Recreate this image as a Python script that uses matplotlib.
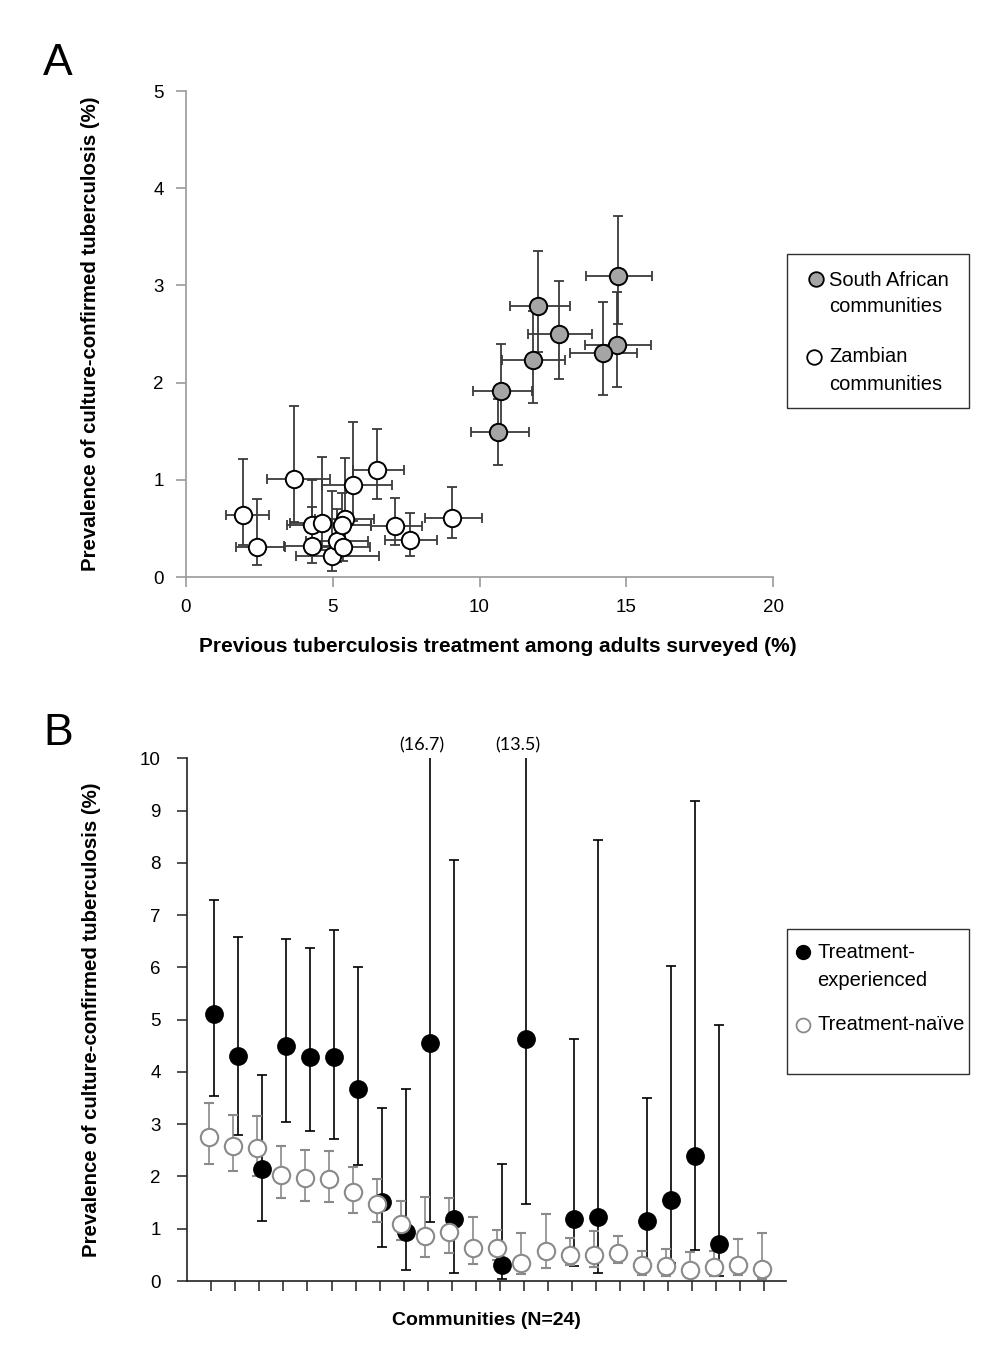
import numpy as np
import matplotlib
matplotlib.use('Agg')
import matplotlib.pyplot as plt
from matplotlib.lines import Line2D
from matplotlib.patches import Rectangle

plt.rcParams['font.family'] = ['Liberation Sans', 'DejaVu Sans']

#%% panel A data: (value, lower, upper) per community
sa_x = [14.72, 12.00, 12.70, 11.81, 14.68, 14.20, 10.73, 10.64]
sa_xlo = [13.62, 11.03, 11.66, 10.76, 13.58, 13.08, 9.79, 9.70]
sa_xhi = [15.89, 13.07, 13.82, 12.91, 15.84, 15.36, 11.78, 11.69]
sa_y = [3.10, 2.785, 2.50, 2.23, 2.39, 2.30, 1.91, 1.49]
sa_ylo = [2.60, 2.31, 2.04, 1.79, 1.95, 1.87, 1.45, 1.15]
sa_yhi = [3.71, 3.35, 3.05, 2.74, 2.93, 2.83, 2.40, 1.83]

zm_x = [1.95, 2.41, 3.68, 4.28, 4.29, 4.63, 4.96, 5.13, 5.41, 5.32, 5.34, 5.68, 6.52, 7.12, 7.63, 9.05]
zm_xlo = [1.35, 1.69, 2.75, 3.45, 3.35, 3.55, 3.74, 4.10, 4.40, 4.30, 4.40, 4.62, 5.70, 6.30, 6.78, 8.14]
zm_xhi = [2.84, 3.37, 4.91, 5.20, 5.30, 5.60, 6.59, 6.20, 6.40, 6.30, 6.27, 7.01, 7.43, 8.03, 8.56, 10.07]
zm_y = [0.635, 0.306, 1.005, 0.54, 0.316, 0.56, 0.22, 0.37, 0.60, 0.54, 0.31, 0.95, 1.10, 0.52, 0.385, 0.61]
zm_ylo = [0.33, 0.12, 0.57, 0.25, 0.14, 0.28, 0.06, 0.15, 0.30, 0.25, 0.16, 0.58, 0.80, 0.33, 0.22, 0.40]
zm_yhi = [1.21, 0.80, 1.76, 1.00, 0.72, 1.23, 0.88, 0.70, 1.22, 0.86, 0.62, 1.59, 1.52, 0.81, 0.66, 0.93]

#%% panel B data, communities 1..24 (nan = no treatment-experienced case)
community = np.arange(1, 25)
exp_prev = [5.11, 4.30, 2.15, 4.49, 4.29, 4.29, 3.67, 1.51, 0.93, 4.55, 1.19, np.nan,
            0.31, 4.63, np.nan, 1.19, 1.23, np.nan, 1.14, 1.55, 2.40, 0.71, np.nan, np.nan]
exp_lo = [3.54, 2.79, 1.15, 3.04, 2.87, 2.72, 2.22, 0.66, 0.22, 1.13, 0.15, np.nan,
          0.03, 1.47, np.nan, 0.28, 0.16, np.nan, 0.30, 0.35, 0.59, 0.10, np.nan, np.nan]
exp_hi = [7.29, 6.58, 3.94, 6.55, 6.37, 6.72, 6.00, 3.31, 3.68, 16.7, 8.05, np.nan,
          2.23, 13.5, np.nan, 4.63, 8.43, np.nan, 3.51, 6.02, 9.19, 4.90, np.nan, np.nan]
naive_prev = [2.76, 2.58, 2.54, 2.03, 1.97, 1.95, 1.70, 1.47, 1.09, 0.87, 0.93, 0.63,
              0.63, 0.34, 0.57, 0.49, 0.50, 0.54, 0.31, 0.29, 0.21, 0.27, 0.30, 0.23]
naive_lo = [2.24, 2.10, 2.00, 1.59, 1.54, 1.51, 1.31, 1.12, 0.78, 0.46, 0.53, 0.33,
            0.40, 0.13, 0.25, 0.30, 0.26, 0.35, 0.12, 0.10, 0.05, 0.10, 0.12, 0.04]
naive_hi = [3.40, 3.17, 3.16, 2.58, 2.51, 2.49, 2.19, 1.96, 1.54, 1.60, 1.59, 1.23,
            0.97, 0.92, 1.28, 0.82, 0.96, 0.86, 0.58, 0.61, 0.56, 0.58, 0.81, 0.91]

W, H = 994, 1345
def fx(px):          # figure fraction from pixel column
    return px / W
def fy(py):          # figure fraction from pixel row (top origin)
    return 1 - py / H

def legend_box(x0, y0, x1, y1, entries, fontsize=14.5):
    # entries: (marker x, marker y, marker kw, [(text, x, y), ...]) in pixels
    fig.add_artist(Rectangle((fx(x0), fy(y1)), fx(x1) - fx(x0), fy(y0) - fy(y1),
                             transform=fig.transFigure, fill=False,
                             edgecolor='#303030', linewidth=1.0))
    for mx, my, mkw, lines in entries:
        fig.add_artist(Line2D([fx(mx)], [fy(my)], transform=fig.transFigure,
                              marker='o', ls='none', **mkw))
        for txt, tx, ty in lines:
            fig.text(fx(tx), fy(ty), txt, fontsize=fontsize, ha='left', va='center')

#%%
fig = plt.figure(figsize=(9.94, 13.45), dpi=100)

# ---------------- panel A
axA = fig.add_axes([0.1871, 0.5710, 0.5906, 0.3613])
sx, sy = np.array(sa_x), np.array(sa_y)
zx, zy = np.array(zm_x), np.array(zm_y)
eb = dict(fmt='none', ecolor='#3a3a3a', elinewidth=1.3, capsize=3.5, capthick=1.3)
axA.errorbar(sx, sy, xerr=[sx - sa_xlo, np.array(sa_xhi) - sx],
             yerr=[sy - sa_ylo, np.array(sa_yhi) - sy], **eb)
axA.errorbar(zx, zy, xerr=[zx - zm_xlo, np.array(zm_xhi) - zx],
             yerr=[zy - zm_ylo, np.array(zm_yhi) - zy], **eb)
axA.plot(sx, sy, 'o', ms=12.5, mfc='#a5a5a5', mec='black', mew=1.4, ls='none')
axA.plot(zx, zy, 'o', ms=12.5, mfc='white', mec='black', mew=1.4, ls='none')

axA.set_xlim(0, 20)
axA.set_ylim(0, 5)
axA.set_xticks([0, 5, 10, 15, 20])
axA.set_yticks(range(6))
for s in ['top', 'right']:
    axA.spines[s].set_visible(False)
for s in ['left', 'bottom']:
    axA.spines[s].set_color('#9a9a9a')
    axA.spines[s].set_linewidth(1.2)
axA.tick_params(direction='out', length=7, width=1.2, color='#9a9a9a',
                labelsize=13.5, pad=9)
axA.set_xlabel('Previous tuberculosis treatment among adults surveyed (%)',
               fontsize=15, fontweight='bold')
axA.xaxis.set_label_coords(0.531, -0.124)
axA.set_ylabel('Prevalence of culture-confirmed tuberculosis (%)',
               fontsize=14.7, fontweight='bold', labelpad=38)

legend_box(787, 254, 969, 408, [
    (816, 279, dict(ms=10.5, mfc='#a5a5a5', mec='black', mew=1.3),
     [('South African', 829, 280), ('communities', 829, 307)]),
    (814, 357, dict(ms=10.5, mfc='white', mec='black', mew=1.3),
     [('Zambian', 829, 356), ('communities', 829, 384)]),
])

fig.text(fx(43), fy(75), 'A', fontsize=32, ha='left', va='baseline')

# ---------------- panel B
axB = fig.add_axes([0.1884, 0.04758, 0.6023, 0.3886])
ep = np.array(exp_prev)
ok = ~np.isnan(ep)
ex = community[ok] + 0.1
axB.errorbar(ex, ep[ok], yerr=[ep[ok] - np.array(exp_lo)[ok], np.array(exp_hi)[ok] - ep[ok]],
             fmt='o', ms=12.5, mfc='black', mec='black', color='black',
             elinewidth=1.2, ecolor='black', capsize=3.5, capthick=1.2)
nv = np.array(naive_prev)
axB.errorbar(community - 0.1, nv, yerr=[nv - naive_lo, np.array(naive_hi) - nv],
             fmt='o', ms=12.5, mfc='white', mec='#8a8a8a', mew=1.5,
             elinewidth=1.2, ecolor='#8a8a8a', capsize=3.5, capthick=1.2)

# upper limits that run off the chart
for i in np.where(np.array(exp_hi) > 10)[0]:
    axB.text(community[i] - 0.25, 10.1, '(%.1f)' % exp_hi[i], ha='center', va='bottom',
             fontsize=13, family='Lato', clip_on=False)

axB.set_xlim(0, 24.9)
axB.set_ylim(0, 10)
axB.set_yticks(range(11))
axB.set_xticks(community)
axB.set_xticklabels([])
for s in ['top', 'right']:
    axB.spines[s].set_visible(False)
for s in ['left', 'bottom']:
    axB.spines[s].set_color('#222222')
    axB.spines[s].set_linewidth(1.2)
axB.tick_params(direction='out', length=7, width=1.1, color='#222222',
                labelsize=13.5, pad=12)
axB.set_xlabel('Communities (N=24)', fontsize=14, fontweight='bold', labelpad=3)
axB.set_ylabel('Prevalence of culture-confirmed tuberculosis (%)',
               fontsize=14.7, fontweight='bold', labelpad=28)

legend_box(787, 929, 969, 1074, [
    (803, 952, dict(ms=10, mfc='black', mec='black', mew=1.0),
     [('Treatment-', 817, 953), ('experienced', 817, 980)]),
    (803, 1025, dict(ms=10, mfc='white', mec='#8a8a8a', mew=1.3),
     [('Treatment-na\u00efve', 817, 1025)]),
])

fig.text(fx(43), fy(745), 'B', fontsize=32, ha='left', va='baseline')

fig.savefig('out.png', dpi=100)
